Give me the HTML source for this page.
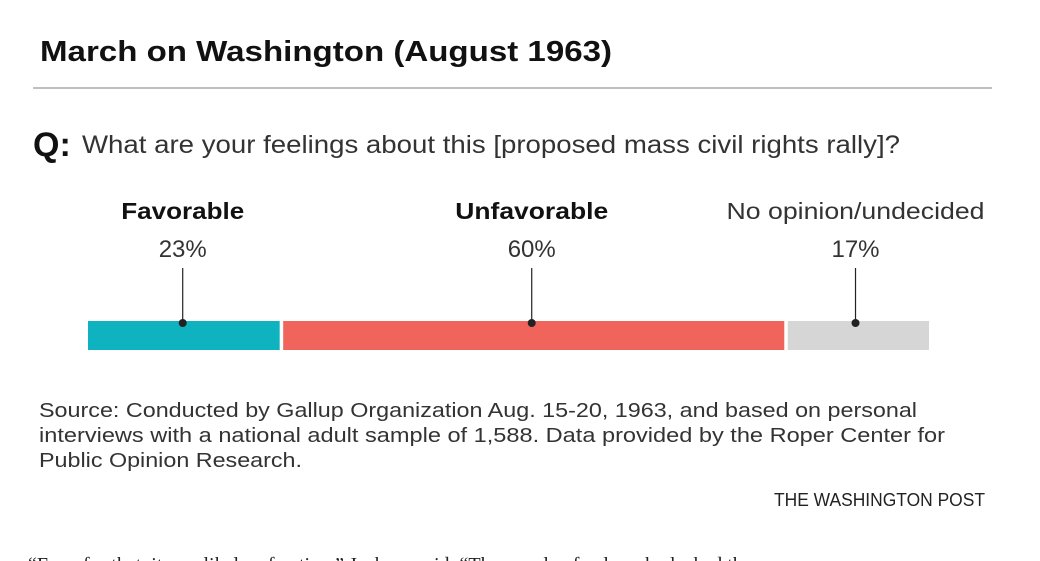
<!DOCTYPE html>
<html><head><meta charset="utf-8"><style>
body{margin:0;background:#fff;width:1040px;height:561px;overflow:hidden;font-family:"Liberation Sans",sans-serif}
svg{display:block}
</style></head><body>
<svg width="1040" height="561">
<text x="40" y="61" font-size="29" font-weight="bold" fill="#111" textLength="572" lengthAdjust="spacingAndGlyphs">March on Washington (August 1963)</text>
<line x1="33" y1="88" x2="992" y2="88" stroke="#aaa" stroke-width="1.5"/>
<text x="33" y="156" font-size="34" font-weight="bold" fill="#111">Q:</text>
<text x="82" y="153" font-size="25" fill="#333" textLength="818" lengthAdjust="spacingAndGlyphs">What are your feelings about this [proposed mass civil rights rally]?</text>
<g id="bars"></g>
<text x="39" y="417" font-size="20" fill="#333" textLength="878" lengthAdjust="spacingAndGlyphs">Source: Conducted by Gallup Organization Aug. 15-20, 1963, and based on personal</text>
<text x="39" y="442" font-size="20" fill="#333" textLength="906" lengthAdjust="spacingAndGlyphs">interviews with a national adult sample of 1,588. Data provided by the Roper Center for</text>
<text x="39" y="467" font-size="20" fill="#333" textLength="263" lengthAdjust="spacingAndGlyphs">Public Opinion Research.</text>
<text x="985" y="506" font-size="18" fill="#222" text-anchor="end" textLength="211" lengthAdjust="spacingAndGlyphs">THE WASHINGTON POST</text>
<text x="28" y="571" font-size="20" fill="#222" font-family="Liberation Serif,serif">“Even for that, it was likely a fraction,” Jackson said. “The people of color who lacked the</text>
</svg>
<script>
const categories=["Favorable","Unfavorable","No opinion/undecided"];
const values=[23,60,17];
const valueLabels=["23%","60%","17%"];
const colors=["#0fb3c0","#f0645c","#d6d6d6"];
const bold=[true,true,false];
const labelWidths=[123,153,258];
const g=document.getElementById('bars');
const NS="http://www.w3.org/2000/svg";
const x0=88,x1=929,gap=3.5,yTop=321,h=29;
const total=values.reduce((a,b)=>a+b,0);
const sx=v=>(x1-x0)*v/total;
let cx=x0;
values.forEach((v,i)=>{
  const w=sx(v);
  const r=document.createElementNS(NS,'rect');
  
  
  const left=cx+(i>0?gap/2:0), right=cx+w-(i<values.length-1?gap/2:0);
  r.setAttribute('x',left);r.setAttribute('y',yTop);r.setAttribute('width',right-left);r.setAttribute('height',h);r.setAttribute('fill',colors[i]);
  g.appendChild(r);
  const m=cx+w/2-2;
  const l=document.createElementNS(NS,'line');
  
  
  l.setAttribute('x1',m);l.setAttribute('x2',m);l.setAttribute('y1',268);l.setAttribute('y2',323);l.setAttribute('stroke','#222');l.setAttribute('stroke-width','1.2');
  g.appendChild(l);
  const c=document.createElementNS(NS,'circle');
  
  
  c.setAttribute('cx',m);c.setAttribute('cy',323);c.setAttribute('r',4);c.setAttribute('fill','#222');
  g.appendChild(c);
  const t=document.createElementNS(NS,'text');
  
  
  t.setAttribute('x',m);t.setAttribute('y',219);t.setAttribute('text-anchor','middle');t.setAttribute('font-size','23');
  t.setAttribute('textLength',labelWidths[i]);t.setAttribute('lengthAdjust','spacingAndGlyphs');
  t.setAttribute('fill',bold[i]?'#111':'#333');if(bold[i])t.setAttribute('font-weight','bold');
  t.textContent=categories[i];g.appendChild(t);
  const p=document.createElementNS(NS,'text');
  
  
  p.setAttribute('x',m);p.setAttribute('y',257);p.setAttribute('text-anchor','middle');p.setAttribute('font-size','24');p.setAttribute('fill','#333');
  p.textContent=valueLabels[i];g.appendChild(p);
  cx+=w;
});
</script>
</body></html>
